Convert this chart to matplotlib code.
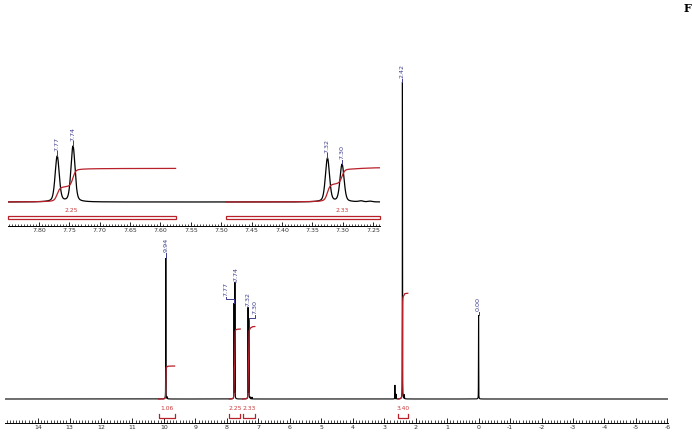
import numpy as np
import matplotlib
matplotlib.use("Agg")
import matplotlib.pyplot as plt
from matplotlib.ticker import MultipleLocator, FixedLocator
from matplotlib.patches import Rectangle

# ---------------- data ----------------
peak_ppm = [9.94, 7.770, 7.744, 7.325, 7.301, 2.42, 0.00, 2.66, 2.62, 2.36, 9.89, 7.20, 7.27, 7.255]
peak_height = [141, 95, 116, 91, 78, 317, 84, 14, 5, 4, 2, 2, 2, 1.5]

label_text = ["9.94", "7.77", "7.74", "7.32", "7.30", "2.42", "0.00"]
label_ppm = [9.94, 7.770, 7.744, 7.325, 7.301, 2.42, 0.00]

integral_values = [1.06, 2.25, 2.33, 3.40]
integral_labels = ["1.06", "2.25", "2.33", "3.40"]
integral_regions = [(10.17, 9.66), (7.92, 7.575), (7.492, 7.11), (2.56, 2.25)]

main_ticks = list(range(14, -7, -1))
inset_ticks = [7.80, 7.75, 7.70, 7.65, 7.60, 7.55, 7.50, 7.45, 7.40, 7.35, 7.30, 7.25]

# ---------------- style ----------------
FWHM = 0.008
ETA = 0.35          # Lorentzian fraction of the line shape
LBL_C = "#3d3d8f"
INT_C = "#b8202a"
TXT_C = "#c83a3a"
PX_PER_UNIT = 31.1
INSET_SCALE = 0.48

W, H = 692, 433
fig = plt.figure(figsize=(W / 100, H / 100), dpi=100)
fig.patch.set_facecolor("white")


def ax_px(l, r, b, t):
    return fig.add_axes([l / W, (H - b) / H, (r - l) / W, (b - t) / H])


def spectrum(x):
    y = np.zeros_like(x)
    hw = FWHM / 2
    sig = FWHM / 2.3548
    for p, h in zip(peak_ppm, peak_height):
        d = x - p
        lor = 1.0 / (1.0 + (d / hw) ** 2)
        gau = np.exp(-0.5 * (d / sig) ** 2)
        y += h * (ETA * lor + (1 - ETA) * gau)
    return y


# ---------------- main axes ----------------
ax = ax_px(5, 668, 423, 40)
ax.set_facecolor("none")
XL = (15.05, -6.02)
ax.set_xlim(*XL)
ax.set_ylim(-24, 359)
x = np.linspace(XL[0], XL[1], 120001)
y = spectrum(x)
ax.plot(x, y, color="black", lw=0.8, solid_joinstyle="miter")

# integrals
int_curves = []
for (a, b), v in zip(integral_regions, integral_values):
    m = (x <= a) & (x >= b)
    xs = x[m]
    cs = np.cumsum(y[m])
    cs = cs / cs[-1] * v * PX_PER_UNIT
    int_curves.append((xs, cs))
    ax.plot(xs, cs, color=INT_C, lw=0.9)

for (a, b), t in zip(integral_regions, integral_labels):
    ax.plot([a, a, b, b], [-15, -19, -19, -15], color=INT_C, lw=0.9)
    ax.text((a + b) / 2, -10, t, color=TXT_C, fontsize=4.3, ha="center", va="center")

# peak labels main
main_lbl_layout = {
    "9.94": (9.94, 147, None),
    "2.42": (2.42, 321, None),
    "0.00": (0.00, 88, None),
    "7.74": (7.70, 118, None),
    "7.77": (8.02, 103, 100),
    "7.32": (7.34, 93, None),
    "7.30": (7.10, 85, 81),
}
for t, p in zip(label_text, label_ppm):
    lx, ly, bend = main_lbl_layout[t]
    ph = spectrum(np.array([p]))[0]
    ax.text(lx, ly, t, rotation=90, fontsize=4.6, color=LBL_C, ha="center", va="bottom")
    if bend is None:
        ax.plot([p, lx], [ph, ly - 1], color=LBL_C, lw=0.7)
    else:
        ax.plot([lx, lx, p, p], [ly - 1, bend, bend, ph], color=LBL_C, lw=0.7)

for s in ["top", "left", "right"]:
    ax.spines[s].set_visible(False)
ax.spines["bottom"].set_linewidth(0.7)
ax.set_yticks([])
ax.xaxis.set_major_locator(FixedLocator(main_ticks))
ax.xaxis.set_minor_locator(MultipleLocator(0.1))
ax.set_xticklabels([str(t) for t in main_ticks])
ax.tick_params(axis="x", which="major", direction="in", length=3.5, width=0.6,
               labelsize=4.5, pad=1.5, labelcolor="#333333")
ax.tick_params(axis="x", which="minor", direction="in", length=2, width=0.5)

# ---------------- inset ----------------
ia = ax_px(8, 380, 226, 120)
ia.set_facecolor("none")
IXL = (7.851, 7.2385)
ia.set_xlim(*IXL)
ia.set_ylim(-24, 82)
xi = np.linspace(IXL[0], IXL[1], 8001)
yi = spectrum(xi) * INSET_SCALE
ia.plot(xi, yi, color="black", lw=0.9)
for (xs, cs) in int_curves:
    m = (xs <= IXL[0]) & (xs >= IXL[1])
    if m.sum() > 1:
        ia.plot(xs[m], cs[m] * INSET_SCALE, color=INT_C, lw=0.9)

for (a, b), t in zip(integral_regions, integral_labels):
    lo, hi = max(min(a, IXL[0]), IXL[1]), min(max(b, IXL[1]), IXL[0])
    if lo - hi > 0.01:
        ia.add_patch(Rectangle((hi, -17), lo - hi, 3.5, fill=False,
                               edgecolor=INT_C, lw=0.9, clip_on=False))
        ia.text((a + b) / 2, -9, t, color=TXT_C, fontsize=4.3, ha="center", va="center")

for t, p in zip(label_text, label_ppm):
    if IXL[1] < p < IXL[0]:
        ph = spectrum(np.array([p]))[0] * INSET_SCALE
        ia.text(p, ph + 5, t, rotation=90, fontsize=4.6, color=LBL_C,
                ha="center", va="bottom", clip_on=False)
        ia.plot([p, p], [ph, ph + 4.5], color=LBL_C, lw=0.7, clip_on=False)

for s in ["top", "left", "right"]:
    ia.spines[s].set_visible(False)
ia.spines["bottom"].set_linewidth(0.7)
ia.set_yticks([])
ia.xaxis.set_major_locator(FixedLocator(inset_ticks))
ia.xaxis.set_minor_locator(MultipleLocator(0.005))
ia.set_xticklabels([f"{t:.2f}" for t in inset_ticks])
ia.tick_params(axis="x", which="major", direction="in", length=3, width=0.6,
               labelsize=4.5, pad=1.5, labelcolor="#333333")
ia.tick_params(axis="x", which="minor", direction="in", length=1.8, width=0.5)

fig.text(687 / W, 1 - 9 / H, "F", fontsize=8, fontweight="bold",
         family="DejaVu Serif", ha="center", va="center")

fig.savefig("out.png", dpi=100)
